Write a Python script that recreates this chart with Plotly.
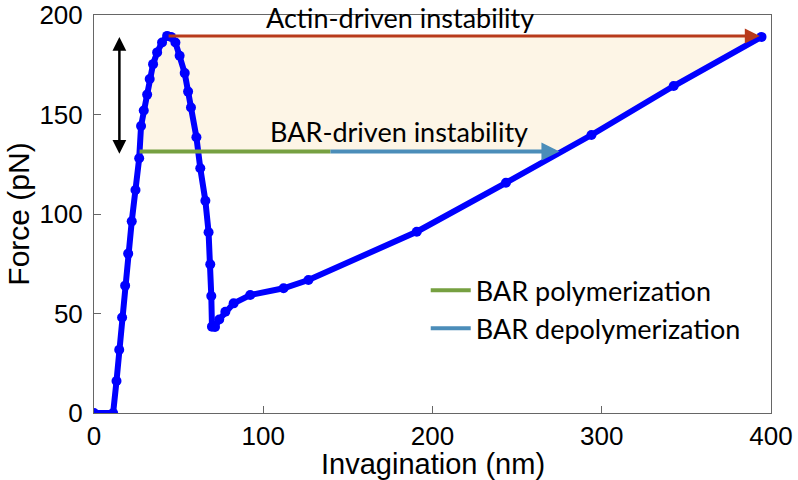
import plotly.graph_objects as go
import numpy as np

# Force-extension curve
invagination = [0, 11.3, 13.3, 14.9, 16.6, 18.4, 20.2, 22.3, 24.5, 26.7, 27.8, 29.4, 31.4, 32.9,
                34.9, 37.3, 40.2, 43.2, 45.5, 48.1, 50.6, 53.6, 55.6, 57.3, 60.5, 62.8, 65.8,
                67.7, 68.7, 69.3, 69.7, 71.5, 74.0, 77.6, 82.5, 92.3, 112.0, 126.7, 190.7,
                243.4, 293.9, 342.5, 394.4]
force = [0, 0, 16.1, 31.8, 48.0, 64.0, 80.1, 96.3, 112.1, 128.0, 144.2, 152.0, 160.0, 167.8,
         175.3, 181.2, 186.2, 189.5, 189.0, 186.2, 179.5, 170.8, 161.5, 153.5, 138.6, 123.0, 106.7,
         90.8, 74.7, 58.8, 43.4, 43.2, 47.0, 50.9, 55.1, 59.3, 62.7, 66.8, 91.1,
         115.7, 139.7, 164.3, 189.0]

bar_force = 131.4          # level of BAR-driven instability
bar_poly_end = 139.7       # end of polymerization segment
bar_depoly_tip = 275.0     # tip of depolymerization arrow
double_arrow_x = 15.0

x = np.array(invagination)
y = np.array(force)
ipk = int(np.argmax(y))
xl = float(np.interp(bar_force, y[:ipk + 1], x[:ipk + 1]))
imin = int(np.argmin(np.where(x > 60, y, 1e9)))
xr = float(np.interp(bar_force, y[imin:], x[imin:]))

rise_mask = (np.arange(len(x)) <= ipk) & (y >= bar_force)
last_mask = (np.arange(len(x)) >= imin) & (y >= bar_force)
poly_x = [xl] + list(x[rise_mask]) + [x[-1]] + list(x[last_mask][::-1]) + [xr, xl]
poly_y = [bar_force] + list(y[rise_mask]) + [y[ipk]] + list(y[last_mask][::-1]) + [bar_force, bar_force]

fig = go.Figure()
fig.add_trace(go.Scatter(x=poly_x, y=poly_y, fill="toself", fillcolor="#FDF5E6",
                         line=dict(width=0), mode="lines", showlegend=False, hoverinfo="skip"))
fig.add_trace(go.Scatter(x=invagination, y=force, mode="lines+markers",
                         line=dict(color="#0000FF", width=6),
                         marker=dict(color="#0000FF", size=10), showlegend=False))
fig.add_trace(go.Scatter(x=[xl, bar_poly_end], y=[bar_force, bar_force], mode="lines",
                         line=dict(color="#76A041", width=4), name="BAR polymerization"))
fig.add_trace(go.Scatter(x=[bar_poly_end, bar_depoly_tip - 5], y=[bar_force, bar_force], mode="lines",
                         line=dict(color="#4B8DB9", width=4), name="BAR depolymerization"))

# arrows
fig.add_annotation(x=x[-1] - 1, y=y[ipk], ax=x[ipk], ay=y[ipk], xref="x", yref="y",
                   axref="x", ayref="y", showarrow=True, arrowhead=2, arrowsize=1.0,
                   arrowwidth=3, arrowcolor="#B83A1B", text="")
fig.add_annotation(x=bar_depoly_tip, y=bar_force, ax=bar_depoly_tip - 8, ay=bar_force,
                   xref="x", yref="y", axref="x", ayref="y", showarrow=True, arrowhead=2,
                   arrowsize=0.9, arrowwidth=4, arrowcolor="#4B8DB9", text="")
fig.add_annotation(x=double_arrow_x, y=189.0, ax=double_arrow_x, ay=129.5, xref="x", yref="y",
                   axref="x", ayref="y", showarrow=True, arrowhead=2, arrowside="end+start",
                   arrowsize=1.1, arrowwidth=2.5, arrowcolor="black", text="")

fig.add_annotation(x=180.8, y=198.6, xref="x", yref="y", text="Actin-driven instability",
                   showarrow=False, font=dict(family="Lato", size=27, color="black"))
fig.add_annotation(x=180.0, y=141.4, xref="x", yref="y", text="BAR-driven instability",
                   showarrow=False, font=dict(family="Lato", size=27, color="black"))
# x-axis title
fig.add_annotation(x=0.5, y=0, xref="paper", yref="paper", yanchor="middle", yshift=-51,
                   text="Invagination (nm)", showarrow=False,
                   font=dict(family="Liberation Sans", size=29, color="black"))

axis_common = dict(showline=True, linecolor="#666666", linewidth=1, mirror=True,
                   ticks="inside", ticklen=7, tickcolor="#666666", showgrid=False,
                   zeroline=False, automargin=False,
                   tickfont=dict(family="Liberation Sans", size=26, color="black"))
fig.update_xaxes(range=[0, 400], tickvals=[0, 100, 200, 300, 400], **axis_common)
fig.update_yaxes(range=[0, 200], tickvals=[0, 50, 100, 150, 200], ticklabelstandoff=5,
                 title=dict(text="Force (pN)", font=dict(family="Liberation Sans", size=30, color="black"), standoff=0),
                 **axis_common)

fig.update_layout(width=798, height=480, plot_bgcolor="white", paper_bgcolor="white",
                  margin=dict(l=94, r=27, t=15, b=67),
                  legend=dict(x=0.49, y=0.369, xanchor="left", yanchor="top",
                              bgcolor="rgba(0,0,0,0)",
                              font=dict(family="Lato", size=27, color="black"),
                              tracegroupgap=0, itemwidth=40))
fig.write_html("out.html", config={"displayModeBar": False},
               post_script="document.body.style.margin='0';")
